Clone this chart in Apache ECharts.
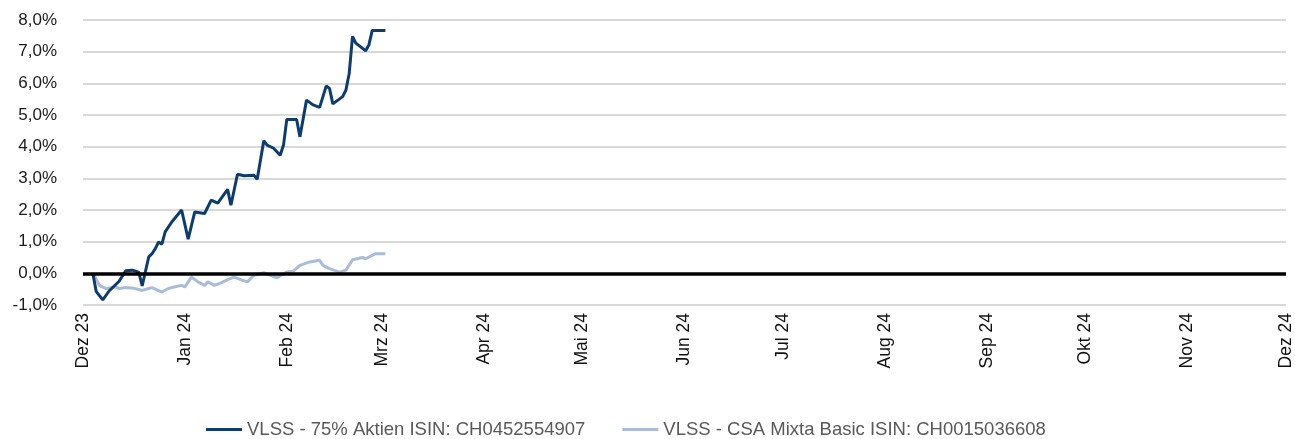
<!DOCTYPE html>
<html>
<head>
<meta charset="utf-8">
<script src="https://cdn.jsdelivr.net/npm/echarts@6/dist/echarts.min.js"></script>
<style>
  html, body { margin: 0; padding: 0; background: #fff; }
  #Grf { width: 1295px; height: 439px; }
</style>
</head>
<body>
<div id="Grf"></div>
<script>
// Monatsachse
const monthDates = ['2023-12-01', '2024-01-01', '2024-02-01', '2024-03-01', '2024-04-01', '2024-05-01',
  '2024-06-01', '2024-07-01', '2024-08-01', '2024-09-01', '2024-10-01', '2024-11-01', '2024-12-01'];
const monthLabels = ['Dez 23', 'Jan 24', 'Feb 24', 'Mrz 24', 'Apr 24', 'Mai 24',
  'Jun 24', 'Jul 24', 'Aug 24', 'Sep 24', 'Okt 24', 'Nov 24', 'Dez 24'];

const seriesNames = ['VLSS - 75% Aktien ISIN: CH0452554907', 'VLSS - CSA Mixta Basic ISIN: CH0015036608'];

// VLSS - 75% Aktien
const aktienDates = ['2023-12-04', '2023-12-05', '2023-12-07', '2023-12-09', '2023-12-12', '2023-12-14',
  '2023-12-16', '2023-12-17', '2023-12-18', '2023-12-19', '2023-12-21', '2023-12-22', '2023-12-23',
  '2023-12-24', '2023-12-25', '2023-12-26', '2023-12-28', '2023-12-31', '2024-01-02', '2024-01-04',
  '2024-01-07', '2024-01-09', '2024-01-11', '2024-01-14', '2024-01-15', '2024-01-17', '2024-01-19',
  '2024-01-22', '2024-01-23', '2024-01-25', '2024-01-26', '2024-01-28', '2024-01-30', '2024-01-31',
  '2024-02-01', '2024-02-04', '2024-02-05', '2024-02-07', '2024-02-09', '2024-02-11', '2024-02-13',
  '2024-02-14', '2024-02-15', '2024-02-18', '2024-02-19', '2024-02-20', '2024-02-21', '2024-02-22',
  '2024-02-25', '2024-02-26', '2024-02-27', '2024-03-02'];
const aktienValues = [0.00, -0.57, -0.84, -0.55, -0.25, 0.08,
  0.10, 0.07, 0.03, -0.40, 0.52, 0.62, 0.78,
  0.99, 0.92, 1.31, 1.62, 2.00, 1.08, 1.94,
  1.89, 2.31, 2.22, 2.65, 2.15, 3.13, 3.08,
  3.10, 2.97, 4.19, 4.05, 3.95, 3.73, 4.05,
  4.86, 4.86, 4.31, 5.47, 5.32, 5.24, 5.92,
  5.84, 5.35, 5.58, 5.79, 6.32, 7.48, 7.27,
  7.03, 7.22, 7.67, 7.67];

// VLSS - CSA Mixta Basic
const mixtaDates = ['2023-12-04', '2023-12-06', '2023-12-08', '2023-12-11', '2023-12-12', '2023-12-14',
  '2023-12-16', '2023-12-19', '2023-12-21', '2023-12-22', '2023-12-25', '2023-12-27', '2023-12-28',
  '2023-12-31', '2024-01-01', '2024-01-03', '2024-01-05', '2024-01-07', '2024-01-08', '2024-01-10',
  '2024-01-12', '2024-01-14', '2024-01-16', '2024-01-18', '2024-01-20', '2024-01-22', '2024-01-25',
  '2024-01-27', '2024-01-29', '2024-02-01', '2024-02-03', '2024-02-05', '2024-02-08', '2024-02-11',
  '2024-02-12', '2024-02-14', '2024-02-17', '2024-02-19', '2024-02-21', '2024-02-24', '2024-02-25',
  '2024-02-27', '2024-02-28', '2024-03-02'];
const mixtaValues = [0.00, -0.38, -0.48, -0.43, -0.48, -0.45,
  -0.46, -0.54, -0.48, -0.45, -0.59, -0.48, -0.45,
  -0.38, -0.43, -0.12, -0.27, -0.38, -0.27, -0.38,
  -0.30, -0.20, -0.12, -0.20, -0.27, -0.06, 0.02,
  -0.06, -0.14, 0.04, 0.07, 0.25, 0.36, 0.41,
  0.25, 0.15, 0.04, 0.10, 0.43, 0.50, 0.46,
  0.57, 0.62, 0.62];

// Datum -> Tage seit 1.12.2023
const DAY = 86400000;
const base = Date.UTC(2023, 11, 1);
const toDay = s => {
  const p = s.split('-').map(Number);
  return Math.round((Date.UTC(p[0], p[1] - 1, p[2]) - base) / DAY);
};
const monthDays = monthDates.map(toDay);

const getOption = () => {
  return {
    animation: false,
    grid: { left: 83, right: 5, top: 20, bottom: 134 },
    legend: {
      left: 201,
      top: 415,
      icon: 'rect',
      itemWidth: 36,
      itemHeight: 3,
      itemGap: 37,
      textStyle: { color: '#595959', fontSize: 18.5, fontFamily: 'Liberation Sans, Arial, sans-serif' },
      data: seriesNames
    },
    xAxis: {
      type: 'value',
      min: monthDays[0],
      max: monthDays[monthDays.length - 1],
      axisLine: { show: false },
      axisTick: { show: false },
      splitLine: { show: false },
      axisLabel: {
        customValues: monthDays,
        rotate: 90,
        margin: 8,
        color: '#111',
        fontSize: 17.5,
        fontFamily: 'Liberation Sans, Arial, sans-serif',
        formatter: (val) => {
          const i = monthDays.indexOf(val);
          return i >= 0 ? monthLabels[i] : '';
        }
      }
    },
    yAxis: {
      type: 'value',
      min: -1,
      max: 8,
      interval: 1,
      axisLine: { show: false },
      axisTick: { show: false },
      splitLine: { lineStyle: { color: '#d9d9d9', width: 2 } },
      axisLabel: {
        margin: 26,
        color: '#1a1a1a',
        fontSize: 17,
        fontFamily: 'Liberation Sans, Arial, sans-serif',
        formatter: v => v.toFixed(1).replace('.', ',') + '%'
      }
    },
    series: [
      {
        name: seriesNames[0],
        type: 'line',
        showSymbol: false,
        symbol: 'none',
        z: 3,
        lineStyle: { color: '#0f3d6b', width: 3 },
        itemStyle: { color: '#0f3d6b' },
        data: aktienDates.map((d, i) => [toDay(d), aktienValues[i]]),
        markLine: {
          silent: true,
          symbol: 'none',
          label: { show: false },
          lineStyle: { color: '#000', width: 3.5, type: 'solid' },
          data: [{ yAxis: 0 }]
        }
      },
      {
        name: seriesNames[1],
        type: 'line',
        showSymbol: false,
        symbol: 'none',
        z: 2,
        lineStyle: { color: '#a9bcd8', width: 3 },
        itemStyle: { color: '#a9bcd8' },
        data: mixtaDates.map((d, i) => [toDay(d), mixtaValues[i]])
      }
    ]
  };
};

const initCharts = () => {
  const grafica = echarts.init(document.querySelector('#Grf'));
  grafica.setOption(getOption());
};

initCharts();
</script>
</body>
</html>
